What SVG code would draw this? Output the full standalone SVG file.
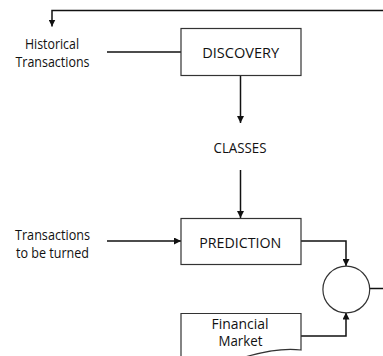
<svg xmlns="http://www.w3.org/2000/svg" width="383" height="356" viewBox="0 0 383 356">
<defs>
<marker id="arr" viewBox="0 0 10 10" refX="10" refY="5" markerWidth="7" markerHeight="7" markerUnits="userSpaceOnUse" orient="auto">
<path d="M0,0 L10,5 L0,10 z" fill="#111"/>
</marker>
<style>
.box{fill:#fff;stroke:#333;stroke-width:1.2}
.ln{fill:none;stroke:#111;stroke-width:1.5}
.t{font-family:"Open Sans","Noto Sans","Liberation Sans",sans-serif;font-size:15px;fill:#111;text-anchor:middle}
.s{font-size:14.5px}
</style>
</defs>
<rect width="383" height="356" fill="#fff"/>
<g id="connectors">
<path class="ln" d="M383,10.5 H52 V26.5" marker-end="url(#arr)"/>
<path class="ln" d="M107,52 H181"/>
<path class="ln" d="M240.5,76 V123" marker-end="url(#arr)"/>
<path class="ln" d="M240.5,170 V218" marker-end="url(#arr)"/>
<path class="ln" d="M107,241 H181" marker-end="url(#arr)"/>
<path class="ln" d="M301,241 H346 V266" marker-end="url(#arr)"/>
<path class="ln" d="M301,336 H346 V312.5" marker-end="url(#arr)"/>
<path class="ln" d="M369.7,288.5 H383"/>
</g>
<g id="historical">
<text class="t" x="52" y="48.5" textLength="54" lengthAdjust="spacingAndGlyphs">Historical</text>
<text class="t" x="52.5" y="66.7" textLength="74" lengthAdjust="spacingAndGlyphs">Transactions</text>
</g>
<g id="discovery">
<rect class="box" x="181" y="28.5" width="120" height="47"/>
<text class="t" x="240.7" y="58.3" textLength="77" lengthAdjust="spacingAndGlyphs">DISCOVERY</text>
</g>
<g id="classes">
<text class="t" x="240" y="153" textLength="53" lengthAdjust="spacingAndGlyphs">CLASSES</text>
</g>
<g id="transactions">
<text class="t" x="52.5" y="240" textLength="75" lengthAdjust="spacingAndGlyphs">Transactions</text>
<text class="t" x="52.5" y="258" textLength="73" lengthAdjust="spacingAndGlyphs">to be turned</text>
</g>
<g id="prediction">
<rect class="box" x="181" y="218.5" width="120" height="46"/>
<text class="t" x="240.2" y="247.7" textLength="82" lengthAdjust="spacingAndGlyphs">PREDICTION</text>
</g>
<g id="combiner">
<circle cx="346.3" cy="289.5" r="23.4" fill="#fff" stroke="#333" stroke-width="1.2"/>
</g>
<g id="market">
<path class="box" d="M181,370 V313.5 H301 V350 C285,348 262,352 245,357 C230,362 205,368 181,370 z"/>
<text class="t s" x="240" y="328.7" textLength="57" lengthAdjust="spacingAndGlyphs">Financial</text>
<text class="t s" x="240.5" y="346.3" textLength="44" lengthAdjust="spacingAndGlyphs">Market</text>
</g>
</svg>
